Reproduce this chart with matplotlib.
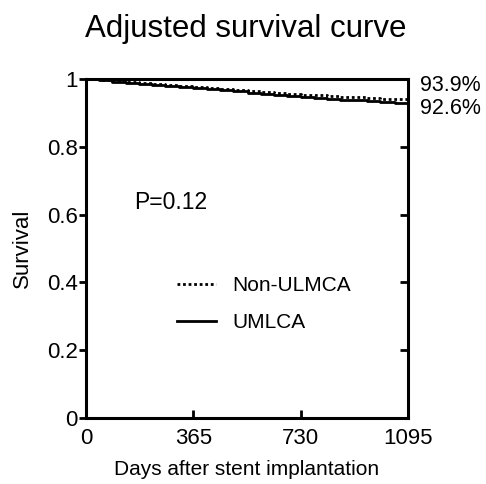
import matplotlib
matplotlib.use("Agg")
import matplotlib.pyplot as plt

plt.rcParams['font.family'] = ['Liberation Sans', 'DejaVu Sans']

# adjusted survival
days = [0, 45, 90, 135, 180, 225, 270, 315, 365, 410, 455, 500, 550,
        595, 640, 685, 730, 775, 820, 865, 910, 955, 1000, 1050, 1095]
non_ulmca = [1.000, 0.998, 0.994, 0.991, 0.988, 0.985, 0.982, 0.979, 0.976, 0.973, 0.970, 0.967, 0.964,
             0.961, 0.958, 0.956, 0.954, 0.952, 0.950, 0.948, 0.946, 0.944, 0.942, 0.940, 0.939]
umlca = [1.000, 0.996, 0.992, 0.989, 0.986, 0.983, 0.979, 0.976, 0.973, 0.970, 0.967, 0.964, 0.960,
         0.957, 0.954, 0.951, 0.948, 0.945, 0.942, 0.939, 0.937, 0.934, 0.931, 0.928, 0.926]

xticks = [0, 365, 730, 1095]
yticks = [0, 0.2, 0.4, 0.6, 0.8, 1.0]
ylabels = ['0', '0.2', '0.4', '0.6', '0.8', '1']

fig = plt.figure(figsize=(4.86, 4.84), dpi=100)
ax = fig.add_axes([0.177, 0.1364, 0.6626, 0.7004])

ax.step(days, non_ulmca, where='post', color='black', lw=2, ls=(0, (1, 1)), label='Non-ULMCA')
ax.step(days, umlca, where='post', color='black', lw=2, label='UMLCA')

ax.set_xlim(0, 1095)
ax.set_ylim(0, 1)
ax.set_xticks(xticks)
ax.set_yticks(yticks)
ax.set_yticklabels(ylabels)
for s in ax.spines.values():
    s.set_linewidth(2.2)
ax.tick_params(axis='y', direction='out', length=5, width=2, labelsize=16, pad=1, right=False)
ax.tick_params(axis='x', direction='in', length=6, width=2, labelsize=16, pad=7)

# inward ticks on the right spine
axr = ax.twinx()
axr.set_ylim(0, 1)
axr.set_yticks(yticks)
axr.tick_params(axis='y', direction='in', length=6, width=2, labelright=False)

ax.set_xlabel('Days after stent implantation', fontsize=15, labelpad=8)
ax.set_ylabel('Survival', fontsize=16, labelpad=10)
fig.text(0.505, 0.94, 'Adjusted survival curve', fontsize=22.5, ha='center', va='center')

ax.text(165, 0.635, 'P=0.12', fontsize=16.5, va='center')
ax.text(1.037, 0.982, '93.9%', transform=ax.transAxes, fontsize=15.5, va='center', ha='left')
ax.text(1.037, 0.912, '92.6%', transform=ax.transAxes, fontsize=15.5, va='center', ha='left')

ax.legend(loc='center left', bbox_to_anchor=(0.283, 0.336), frameon=False, fontsize=15,
          borderaxespad=0, borderpad=0, handlelength=1.85, handletextpad=0.8, labelspacing=0.85)

fig.savefig('out.png', dpi=100)
